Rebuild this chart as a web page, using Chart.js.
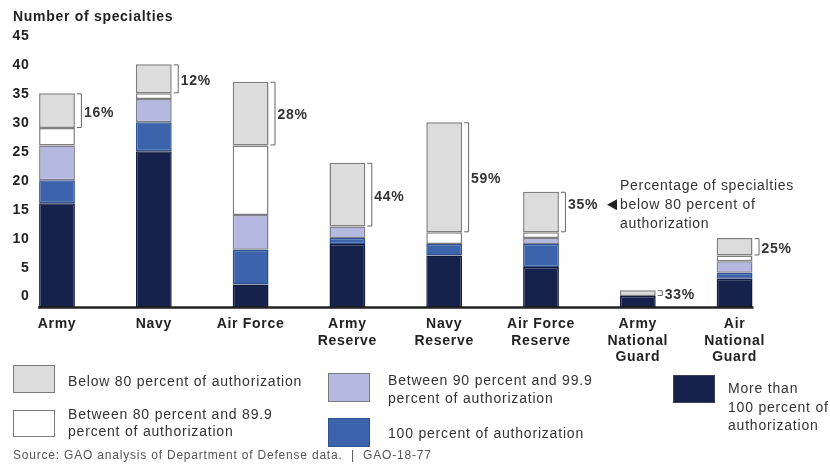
<!DOCTYPE html>
<html lang="en">
<head>
    <meta charset="UTF-8">
    <title>Number of specialties by component</title>
    <script src="https://cdn.jsdelivr.net/npm/chart.js"></script>
    <style>
        body { margin: 0; background: #fff; font-family: "Liberation Sans", Arial, sans-serif; color: #333; letter-spacing: 0.8px; }
        #wrap { position: relative; width: 830px; height: 476px; }
        #wrap canvas { position: absolute; left: 0; top: 0; }
        .txt { position: absolute; font-size: 14px; line-height: 18px; white-space: nowrap; }
        .box { position: absolute; width: 42px; height: 28px; box-sizing: border-box; border: 1.5px solid #7a7a7a; }
        #title { left: 13px; top: 7px; font-weight: bold; color: #222; letter-spacing: 0.7px; }
        #source { left: 13px; top: 447px; font-size: 12px; line-height: 16px; color: #555; }
    </style>
</head>
<body>
<div id="wrap">
    <canvas id="chart" width="830" height="476"></canvas>
    <div class="txt" id="title">Number of specialties</div>

    <div class="box" style="left:13px; top:365px; background:#dcdcdc;"></div>
    <div class="txt" style="left:68px; top:372px;">Below 80 percent of authorization</div>

    <div class="box" style="left:13px; top:410px; height:27px; background:#ffffff;"></div>
    <div class="txt" style="left:68px; top:406px; line-height:17px;">Between 80 percent and 89.9<br>percent of authorization</div>

    <div class="box" style="left:328px; top:373px; height:29px; background:#b5b8e0;"></div>
    <div class="txt" style="left:388px; top:371px;">Between 90 percent and 99.9<br>percent of authorization</div>

    <div class="box" style="left:328px; top:418px; height:29px; background:#3b64ad; border-color:#2f518f;"></div>
    <div class="txt" style="left:388px; top:424px;">100 percent of authorization</div>

    <div class="box" style="left:673px; top:375px; background:#16224c; border-color:#3a3f55;"></div>
    <div class="txt" style="left:728px; top:379px; line-height:18.5px;">More than<br>100 percent of<br>authorization</div>

    <div class="txt" id="source">Source: GAO analysis of Department of Defense data. &nbsp;|&nbsp; GAO-18-77</div>
</div>
<script>
    // Components (x axis)
    const categories = ['Army', 'Navy', 'Air Force', ['Army', 'Reserve'], ['Navy', 'Reserve'],
        ['Air Force', 'Reserve'], ['Army', 'National', 'Guard'], ['Air', 'National', 'Guard']];

    // Number of specialties in each authorization band, stacked from the bottom
    const moreThan100 = [18, 27, 4, 11, 9, 7, 2, 5];
    const at100 = [4, 5, 6, 1, 2, 4, 0, 1];
    const from90to99 = [6, 4, 6, 2, 0, 1, 0, 2];
    const from80to89 = [3, 1, 12, 0, 2, 1, 0, 1];
    const below80 = [6, 5, 11, 11, 19, 7, 1, 3];

    const calloutIndex = 5; // bar whose percentage carries the explanation note
    const calloutLines = ['Percentage of specialties', 'below 80 percent of', 'authorization'];

    const totals = categories.map((c, i) =>
        moreThan100[i] + at100[i] + from90to99[i] + from80to89[i] + below80[i]);
    const percents = below80.map((v, i) => Math.round(v / totals[i] * 100) + '%');

    // letter spacing to match the wide lettering of the original graphic
    const spacingPlugin = {
        id: 'spacing',
        beforeUpdate(chart) { chart.ctx.letterSpacing = '0.7px'; },
        beforeDraw(chart) { chart.ctx.letterSpacing = '0.7px'; }
    };

    // baseline under the bars
    const baselinePlugin = {
        id: 'baseline',
        afterDatasetsDraw(chart) {
            const ctx = chart.ctx;
            const bars = chart.getDatasetMeta(0).data;
            const first = bars[0], last = bars[bars.length - 1];
            const y = chart.scales.y.getPixelForValue(0);
            ctx.save();
            ctx.strokeStyle = '#222';
            ctx.lineWidth = 2.5;
            ctx.beginPath();
            ctx.moveTo(first.x - first.width / 2 - 1, y);
            ctx.lineTo(last.x + last.width / 2 + 1, y);
            ctx.stroke();
            ctx.restore();
        }
    };

    // brackets with the share below 80 percent
    const bracketPlugin = {
        id: 'brackets',
        afterDatasetsDraw(chart) {
            const ctx = chart.ctx;
            const meta = chart.getDatasetMeta(4);
            ctx.save();
            meta.data.forEach((el, i) => {
                const top = el.y, bottom = el.base;
                const bx = el.x + el.width / 2 + 6;
                ctx.strokeStyle = '#666';
                ctx.lineWidth = 1;
                ctx.beginPath();
                ctx.moveTo(bx - 4, top + 0.5);
                ctx.lineTo(bx + 0.5, top + 0.5);
                ctx.lineTo(bx + 0.5, bottom - 0.5);
                ctx.lineTo(bx - 4, bottom - 0.5);
                ctx.stroke();

                let ty = (top + bottom) / 2 + 2;
                if (i === calloutIndex) ty = top + 13;
                ctx.font = 'bold 14px "Liberation Sans", Arial, sans-serif';
                ctx.fillStyle = '#333';
                ctx.textAlign = 'left';
                ctx.textBaseline = 'middle';
                const tx = bx + 3;
                ctx.fillText(percents[i], tx, ty);

                if (i === calloutIndex) {
                    const tip = tx + ctx.measureText(percents[i]).width + 9;
                    ctx.beginPath();
                    ctx.moveTo(tip, ty);
                    ctx.lineTo(tip + 10, ty - 5.5);
                    ctx.lineTo(tip + 10, ty + 5.5);
                    ctx.closePath();
                    ctx.fillStyle = '#222';
                    ctx.fill();
                    ctx.font = '14px "Liberation Sans", Arial, sans-serif';
                    ctx.fillStyle = '#333';
                    calloutLines.forEach((line, k) => {
                        ctx.fillText(line, tip + 13, ty + (k - 1) * 19);
                    });
                }
            });
            ctx.restore();
        }
    };

    const ctx = document.getElementById('chart').getContext('2d');
    new Chart(ctx, {
        type: 'bar',
        data: {
            labels: categories,
            datasets: [
                { label: 'More than 100 percent of authorization', data: moreThan100, backgroundColor: '#16224c', borderColor: '#111a3c' },
                { label: '100 percent of authorization', data: at100, backgroundColor: '#3b64ad', borderColor: '#2f518f' },
                { label: 'Between 90 percent and 99.9 percent of authorization', data: from90to99, backgroundColor: '#b5b8e0', borderColor: '#7f7f8a' },
                { label: 'Between 80 percent and 89.9 percent of authorization', data: from80to89, backgroundColor: '#ffffff', borderColor: '#7f7f7f' },
                { label: 'Below 80 percent of authorization', data: below80, backgroundColor: '#dcdcdc', borderColor: '#7f7f7f' }
            ]
        },
        options: {
            responsive: false,
            animation: false,
            layout: { padding: { left: 8.6, right: 47, top: 47, bottom: 102 } },
            datasets: {
                bar: { categoryPercentage: 1, barPercentage: 0.37, borderWidth: 1.5, borderSkipped: false }
            },
            plugins: {
                legend: { display: false },
                tooltip: { enabled: false }
            },
            scales: {
                x: {
                    stacked: true,
                    grid: { display: false, drawTicks: false },
                    border: { display: false },
                    ticks: {
                        autoSkip: false, maxRotation: 0, padding: 8, color: '#222',
                        font: { family: '"Liberation Sans", Arial, sans-serif', size: 14, weight: 'bold', lineHeight: 1.2 }
                    }
                },
                y: {
                    stacked: true,
                    min: 0, max: 45,
                    grid: { display: false, drawTicks: false },
                    border: { display: false },
                    afterFit: scale => { scale.width = 0; },
                    ticks: {
                        stepSize: 5, mirror: true, crossAlign: 'far', padding: 4, labelOffset: -11,
                        color: '#222',
                        font: { family: '"Liberation Sans", Arial, sans-serif', size: 14, weight: 'bold' }
                    }
                }
            }
        },
        plugins: [spacingPlugin, baselinePlugin, bracketPlugin]
    });
</script>
</body>
</html>
